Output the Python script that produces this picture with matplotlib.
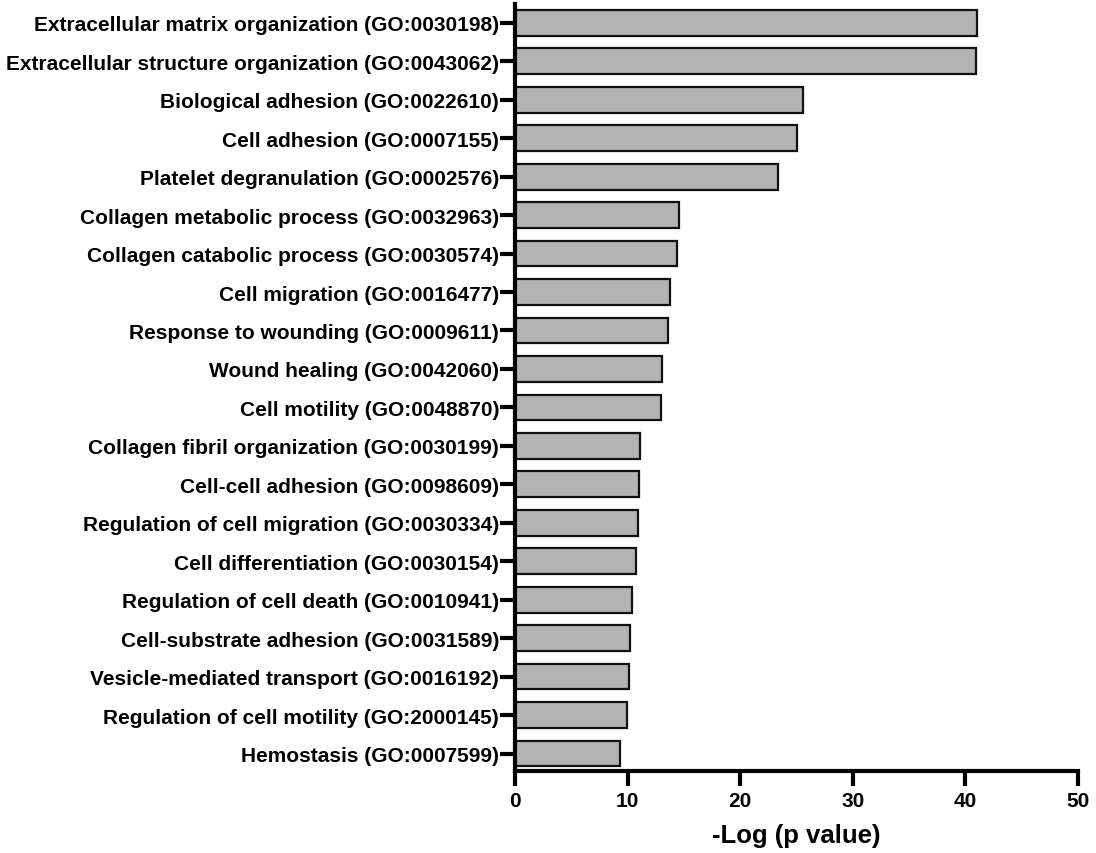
import matplotlib
matplotlib.use("Agg")
import matplotlib.pyplot as plt

categories = [
    "Extracellular matrix organization (GO:0030198)",
    "Extracellular structure organization (GO:0043062)",
    "Biological adhesion (GO:0022610)",
    "Cell adhesion (GO:0007155)",
    "Platelet degranulation (GO:0002576)",
    "Collagen metabolic process (GO:0032963)",
    "Collagen catabolic process (GO:0030574)",
    "Cell migration (GO:0016477)",
    "Response to wounding (GO:0009611)",
    "Wound healing (GO:0042060)",
    "Cell motility (GO:0048870)",
    "Collagen fibril organization (GO:0030199)",
    "Cell-cell adhesion (GO:0098609)",
    "Regulation of cell migration (GO:0030334)",
    "Cell differentiation (GO:0030154)",
    "Regulation of cell death (GO:0010941)",
    "Cell-substrate adhesion (GO:0031589)",
    "Vesicle-mediated transport (GO:0016192)",
    "Regulation of cell motility (GO:2000145)",
    "Hemostasis (GO:0007599)",
]
neg_log_p = [41.0, 40.9, 25.6, 25.05, 23.36, 14.57, 14.36, 13.77, 13.59, 13.02,
             12.93, 11.07, 11.01, 10.92, 10.75, 10.39, 10.21, 10.15, 9.94, 9.32]
xticks = [0, 10, 20, 30, 40, 50]
xlabel = "-Log (p value)"

plt.rcParams['font.family'] = ['Liberation Sans', 'DejaVu Sans']
plt.rcParams['font.weight'] = 'bold'

fig = plt.figure(figsize=(10.96, 8.54), dpi=100)
ax = fig.add_axes([515/1096, 1-772/854, (1078-515)/1096, (772-5)/854])

pos = list(range(len(categories)))
ax.barh(pos, neg_log_p, height=0.67, color='#b3b3b3', edgecolor='#111111', linewidth=1.6, zorder=2)

ax.set_yticks(pos)
ax.set_yticklabels(categories, fontsize=15, fontweight='bold')
ax.set_ylim(19.455, -0.49)
ax.set_xlim(0, 50)
ax.set_xticks(xticks)
ax.set_xticklabels([str(t) for t in xticks], fontsize=15, fontweight='bold')
ax.set_xlabel(xlabel, fontsize=18.5, fontweight='bold', labelpad=9)

for s in ['top', 'right']:
    ax.spines[s].set_visible(False)
for s in ['left', 'bottom']:
    ax.spines[s].set_linewidth(3)
    ax.spines[s].set_color('black')
ax.tick_params(axis='both', width=3, length=10.5, color='black')
ax.tick_params(axis='y', pad=1)
ax.tick_params(axis='x', pad=4)

fig.savefig("out.png", dpi=100)
